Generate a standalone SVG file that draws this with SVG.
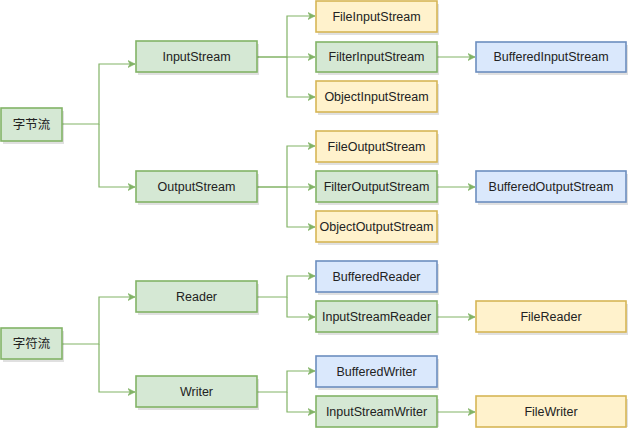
<svg xmlns="http://www.w3.org/2000/svg" width="629" height="430" viewBox="0 0 629 430">
<style>
.n rect.b{stroke-width:1.6}
.g rect.b{fill:#d5e8d4;stroke:#82b366}
.y rect.b{fill:#fff2cc;stroke:#d6b656}
.u rect.b{fill:#dae8fc;stroke:#6c8ebf}
rect.s{fill:#000;opacity:0.12}
text{font-family:"Liberation Sans","Noto Sans CJK SC",sans-serif;font-size:12.5px;fill:#222;text-anchor:middle;dominant-baseline:central}
.c path{fill:none;stroke:#82b366;stroke-width:1.2}
</style>
<defs>
<marker id="a" viewBox="0 0 8 8" refX="7" refY="4" markerWidth="8" markerHeight="8" markerUnits="userSpaceOnUse" orient="auto">
<path d="M0,0.5 L7,4 L0,7.5 L2,4 Z" fill="#82b366" stroke="#82b366" stroke-width="0.6"/>
</marker>
</defs>
<rect width="629" height="430" fill="#fff"/>
<g class="c">
<path d="M62,124 H99 V64 H135" marker-end="url(#a)"/>
<path d="M99,124 V187 H135" marker-end="url(#a)"/>
<path d="M257,57 H287 V16 H315" marker-end="url(#a)"/>
<path d="M257,57 H315" marker-end="url(#a)"/>
<path d="M287,57 V97 H315" marker-end="url(#a)"/>
<path d="M437,57 H475" marker-end="url(#a)"/>
<path d="M257,187 H287 V146 H315" marker-end="url(#a)"/>
<path d="M257,187 H315" marker-end="url(#a)"/>
<path d="M287,187 V227 H315" marker-end="url(#a)"/>
<path d="M437,187 H475" marker-end="url(#a)"/>
<path d="M62,344 H99 V297 H135" marker-end="url(#a)"/>
<path d="M99,344 V392 H135" marker-end="url(#a)"/>
<path d="M257,297 H287 V276 H315" marker-end="url(#a)"/>
<path d="M287,297 V317 H315" marker-end="url(#a)"/>
<path d="M437,317 H475" marker-end="url(#a)"/>
<path d="M257,392 H287 V371 H315" marker-end="url(#a)"/>
<path d="M287,392 V412 H315" marker-end="url(#a)"/>
<path d="M437,412 H475" marker-end="url(#a)"/>
</g>
<g id="byteStream" class="n g"><rect class="s" x="3" y="111" width="61" height="33"/><rect class="b" x="1" y="108" width="61" height="33"/><text x="31.5" y="125">字节流</text></g>
<g id="inputStream" class="n g"><rect class="s" x="138" y="44" width="121" height="31"/><rect class="b" x="136" y="41" width="121" height="31"/><text x="196.5" y="57">InputStream</text></g>
<g id="outputStream" class="n g"><rect class="s" x="138" y="174" width="121" height="31"/><rect class="b" x="136" y="171" width="121" height="31"/><text x="196.5" y="187">OutputStream</text></g>
<g id="fileInputStream" class="n y"><rect class="s" x="318" y="4" width="121" height="31"/><rect class="b" x="316" y="1" width="121" height="31"/><text x="376.5" y="17">FileInputStream</text></g>
<g id="filterInputStream" class="n g"><rect class="s" x="318" y="45" width="121" height="30"/><rect class="b" x="316" y="42" width="121" height="30"/><text x="376.5" y="57">FilterInputStream</text></g>
<g id="objectInputStream" class="n y"><rect class="s" x="318" y="84" width="121" height="31"/><rect class="b" x="316" y="81" width="121" height="31"/><text x="376.5" y="97">ObjectInputStream</text></g>
<g id="bufferedInputStream" class="n u"><rect class="s" x="478" y="45" width="150" height="30"/><rect class="b" x="476" y="42" width="150" height="30"/><text x="551" y="57">BufferedInputStream</text></g>
<g id="fileOutputStream" class="n y"><rect class="s" x="318" y="134" width="121" height="31"/><rect class="b" x="316" y="131" width="121" height="31"/><text x="376.5" y="147">FileOutputStream</text></g>
<g id="filterOutputStream" class="n g"><rect class="s" x="318" y="174" width="121" height="31"/><rect class="b" x="316" y="171" width="121" height="31"/><text x="376.5" y="187">FilterOutputStream</text></g>
<g id="objectOutputStream" class="n y"><rect class="s" x="318" y="214" width="121" height="31"/><rect class="b" x="316" y="211" width="121" height="31"/><text x="376.5" y="227">ObjectOutputStream</text></g>
<g id="bufferedOutputStream" class="n u"><rect class="s" x="478" y="174" width="150" height="31"/><rect class="b" x="476" y="171" width="150" height="31"/><text x="551" y="187">BufferedOutputStream</text></g>
<g id="charStream" class="n g"><rect class="s" x="3" y="331" width="61" height="31"/><rect class="b" x="1" y="328" width="61" height="31"/><text x="31.5" y="344">字符流</text></g>
<g id="reader" class="n g"><rect class="s" x="138" y="284" width="121" height="31"/><rect class="b" x="136" y="281" width="121" height="31"/><text x="196.5" y="297">Reader</text></g>
<g id="writer" class="n g"><rect class="s" x="138" y="379" width="121" height="31"/><rect class="b" x="136" y="376" width="121" height="31"/><text x="196.5" y="392">Writer</text></g>
<g id="bufferedReader" class="n u"><rect class="s" x="318" y="264" width="121" height="31"/><rect class="b" x="316" y="261" width="121" height="31"/><text x="376.5" y="277">BufferedReader</text></g>
<g id="inputStreamReader" class="n g"><rect class="s" x="318" y="304" width="121" height="31"/><rect class="b" x="316" y="301" width="121" height="31"/><text x="376.5" y="317">InputStreamReader</text></g>
<g id="fileReader" class="n y"><rect class="s" x="478" y="304" width="150" height="31"/><rect class="b" x="476" y="301" width="150" height="31"/><text x="551" y="317">FileReader</text></g>
<g id="bufferedWriter" class="n u"><rect class="s" x="318" y="359" width="121" height="31"/><rect class="b" x="316" y="356" width="121" height="31"/><text x="376.5" y="372">BufferedWriter</text></g>
<g id="inputStreamWriter" class="n g"><rect class="s" x="318" y="399" width="121" height="28"/><rect class="b" x="316" y="396" width="121" height="31"/><text x="376.5" y="412">InputStreamWriter</text></g>
<g id="fileWriter" class="n y"><rect class="s" x="478" y="399" width="150" height="28"/><rect class="b" x="476" y="396" width="150" height="31"/><text x="551" y="412">FileWriter</text></g>
</svg>
